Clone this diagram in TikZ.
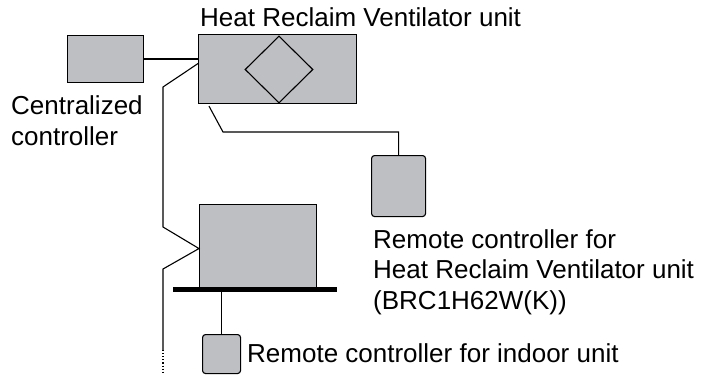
\documentclass[tikz,border=0pt]{standalone}
\usepackage{fontspec}
\setmainfont{Liberation Sans}
\usetikzlibrary{shapes.geometric}
\definecolor{unitgray}{RGB}{190,191,195}

\begin{document}
\begin{tikzpicture}[x=1pt, y=-1pt,
    unit/.style={draw, fill=unitgray, line width=1.1pt, inner sep=0pt, anchor=north west},
    remote/.style={unit, rounded corners=3pt},
    wire/.style={line width=1.1pt},
    lbl/.style={font=\fontsize{26}{31}\selectfont, inner sep=0pt, align=left, anchor=base west}]

    % --- 画布范围 ---
    \useasboundingbox (0,0) rectangle (706,377);

    % --- 设备方框 ---
    % 集中控制器
    \node[unit, minimum width=76pt, minimum height=47pt] (central) at (67,35) {};
    % 全热交换器 (Heat Reclaim Ventilator)
    \node[unit, minimum width=158pt, minimum height=69pt] (hrv) at (198,34) {};
    \node[draw, shape=diamond, line width=1.1pt, inner sep=0pt, aspect=1,
          minimum width=68pt, minimum height=67pt] (core) at (279,69.5) {};
    % 室内机及其底座
    \node[unit, minimum width=117pt, minimum height=83pt] (indoor) at (199,204) {};
    \node[fill=black, inner sep=0pt, minimum width=164pt, minimum height=5pt,
          anchor=north west] (bar) at (173,287) {};
    % 遥控器
    \node[remote, minimum width=54pt, minimum height=61pt] (hrvremote) at (371,155) {};
    \node[remote, minimum width=38pt, minimum height=39pt] (inremote) at (202,334) {};

    % --- 连接线 ---
    \draw[wire] (central.east) -- (central.east -| hrv.west);
    % 主干线 (经过室内机)
    \coordinate (trunkend) at (163,350);
    \draw[wire] ([yshift=5.5pt]hrv.west) -- (163,87) -- (163,227)
        -- ([yshift=-2.5pt]indoor.west) -- (163,269) -- (trunkend);
    \draw[wire, dotted] (trunkend) -- ++(0,23);
    % 全热交换器 -> 其遥控器
    \draw[wire] ([xshift=11pt,yshift=-2pt]hrv.south west) -- (223,132)
        -- (hrvremote.north |- 0,132) -- (hrvremote.north);
    % 室内机 -> 其遥控器
    \draw[wire] (bar.south -| inremote.north) -- (inremote.north);

    % --- 文字标签 (多行时 base 取最后一行) ---
    \node[lbl] (hrvlbl) at (200,27) {Heat Reclaim Ventilator unit};
    \node[lbl] (centrallbl) at (11,145.5) {Centralized\\controller};
    \node[lbl, font=\fontsize{26}{30.5}\selectfont] (hrvremotelbl) at (373,309)
        {Remote controller for\\Heat Reclaim Ventilator unit\\(BRC1H62W(K))};
    \node[lbl] (inremotelbl) at (247,362) {Remote controller for indoor unit};

\end{tikzpicture}
\end{document}
